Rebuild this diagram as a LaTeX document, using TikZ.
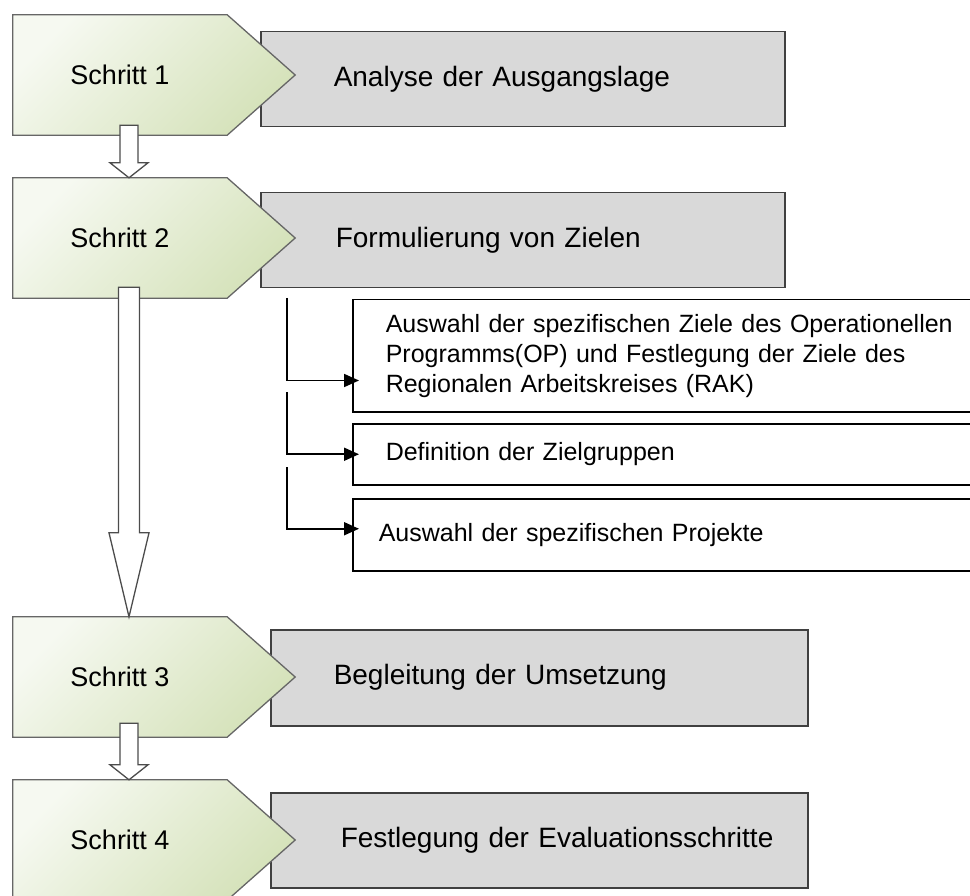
\documentclass[tikz,border=0pt]{standalone}
\usepackage{fontspec}
\setmainfont{Liberation Sans}
\usetikzlibrary{arrows.meta, calc}
\definecolor{steplight}{HTML}{F6F9F1}
\definecolor{stepgreen}{HTML}{D5E2BA}
\definecolor{taskgray}{HTML}{D9D9D9}
\pgfdeclarelayer{boxlayer}
\pgfdeclarelayer{shapelayer}
\pgfsetlayers{boxlayer,shapelayer,main}
\tikzstyle{stepbox} = [rectangle, minimum width=214pt, minimum height=120pt, inner sep=0pt, font=\fontsize{27}{32}\selectfont]
\tikzstyle{pentagon} = [draw=black!60, line width=1.3pt, top color=steplight, bottom color=stepgreen, shading angle=45]
\tikzstyle{taskbox} = [rectangle, anchor=north west, draw=black!75, line width=1.5pt, fill=taskgray, minimum height=95pt, align=left, inner sep=0pt, font=\fontsize{28}{33}\selectfont]
\tikzstyle{subbox} = [rectangle, anchor=north west, draw=black, line width=1.5pt, fill=white, text width=570pt, inner xsep=33pt, inner ysep=0pt, align=left, font=\fontsize{25}{30}\selectfont]
\tikzstyle{blockarrow} = [draw=black!70, line width=1.3pt, fill=white, line join=miter]
\tikzstyle{arrow} = [line width=1.8pt, -{Triangle[length=15pt,width=13pt]}, shorten >=-7pt]
% pointed outline behind a step node
\newcommand{\pentagonof}[1]{\draw[pentagon] (#1.north west) -- (#1.north east) -- ([xshift=68pt]#1.east) -- (#1.south east) -- (#1.south west) -- cycle;}
% hollow arrow: from, to, shaft half width, head half width, head length, overlap
\newcommand{\blockarrow}[6]{\draw[blockarrow] let \p1=([xshift=9pt,yshift=#6]#1.south), \p2=([xshift=9pt]#2.north) in
    (\x1-#3,\y1) -- (\x1+#3,\y1) -- (\x1+#3,\y2+#5) -- (\x1+#4,\y2+#5) -- (\x2,\y2)
    -- (\x1-#4,\y2+#5) -- (\x1-#3,\y2+#5) -- cycle;}

\begin{document}
\begin{tikzpicture}[x=1pt, y=-1pt]
    \useasboundingbox (0,0) rectangle (970,896);

    \node (step1) [stepbox] at (120,75) {Schritt 1};
    \node (step2) [stepbox] at (120,238) {Schritt 2};
    \node (step3) [stepbox] at (120,677) {Schritt 3};
    \node (step4) [stepbox] at (120,840) {Schritt 4};

    \begin{pgfonlayer}{shapelayer}
        \pentagonof{step1}
        \pentagonof{step2}
        \pentagonof{step3}
        \pentagonof{step4}
    \end{pgfonlayer}

    \begin{pgfonlayer}{boxlayer}
        \node (task1) [taskbox, minimum width=524pt, text width=524pt] at (260,31) {\hspace*{73pt}Analyse der Ausgangslage};
        \node (task2) [taskbox, minimum width=524pt, text width=524pt] at (260,192) {\hspace*{75pt}Formulierung von Zielen};
        \node (task3) [taskbox, minimum width=537pt, text width=537pt, minimum height=96pt] at (270,629) {\hspace*{63pt}Begleitung der Umsetzung};
        \node (task4) [taskbox, minimum width=537pt, text width=537pt] at (270,792) {\hspace*{70pt}Festlegung der Evaluationsschritte};
    \end{pgfonlayer}

    \blockarrow{step1}{step2}{9pt}{19pt}{15pt}{10pt}
    \blockarrow{step2}{step3}{10.5pt}{20pt}{84pt}{11pt}
    \blockarrow{step3}{step4}{9pt}{19pt}{15pt}{14pt}

    \node (sub1) [subbox, minimum height=112pt] at (352,299) {Auswahl der spezifischen Ziele des Operationellen\\Programms(OP) und Festlegung der Ziele des\\Regionalen Arbeitskreises (RAK)};
    \node (sub2) [subbox, minimum height=61pt] at (352,423) {Definition der Zielgruppen};
    \node (sub3) [subbox, minimum height=72pt, text width=584pt, inner xsep=26pt] at (352,498) {Auswahl der spezifischen Projekte};

    \coordinate (fork1) at (287,298);
    \coordinate (fork2) at (287,392);
    \coordinate (fork3) at (287,467);
    \draw [arrow] (fork1) |- ([yshift=32pt]sub1.south west);
    \draw [arrow] (fork2) |- (sub2.west);
    \draw [arrow] (fork3) |- ([yshift=6pt]sub3.west);
\end{tikzpicture}
\end{document}
